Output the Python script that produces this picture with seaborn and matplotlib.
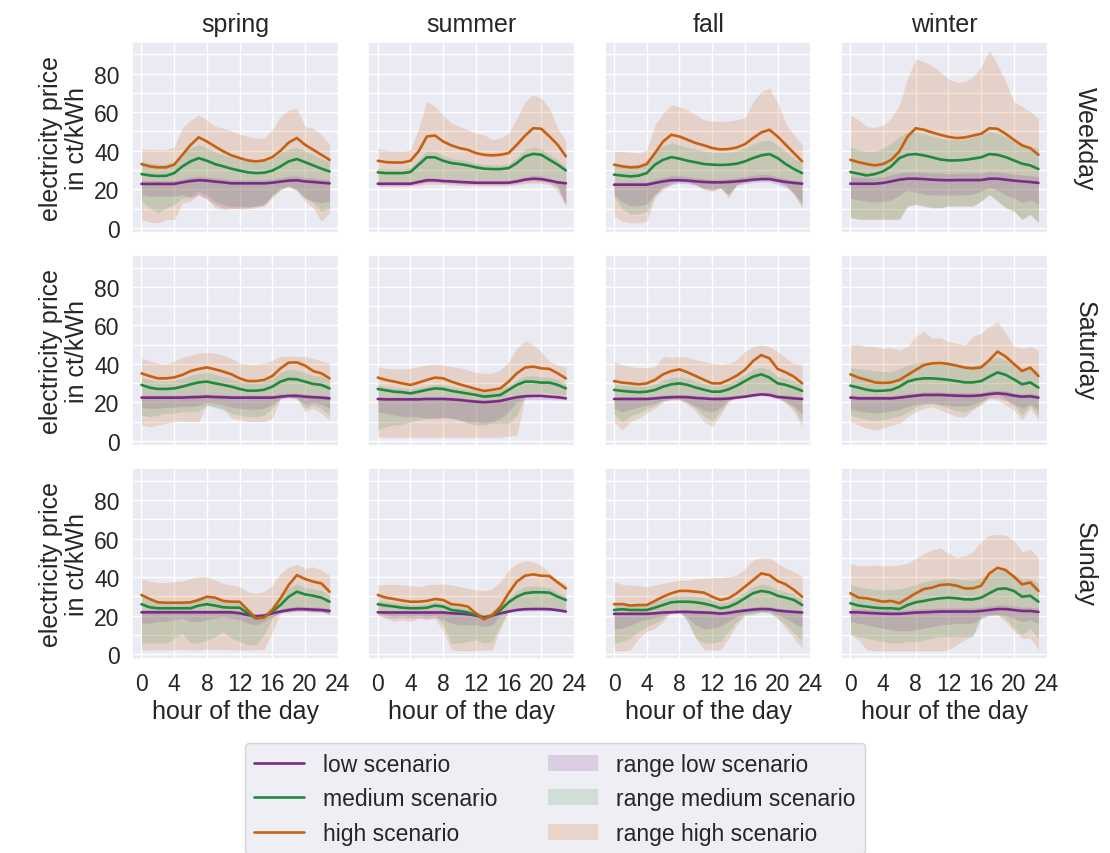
import matplotlib
matplotlib.use("Agg")
import matplotlib.pyplot as plt
import seaborn as sns
import pandas as pd
from matplotlib.ticker import MultipleLocator
from matplotlib.lines import Line2D
from matplotlib.patches import Patch

HOURS = list(range(24))
SEASONS = ["spring", "summer", "fall", "winter"]
DAYS = ["Weekday", "Saturday", "Sunday"]
SCENARIOS = ["low scenario", "medium scenario", "high scenario"]
RANGE_LABELS = ["range low scenario", "range medium scenario", "range high scenario"]
X_TICKS = [0, 4, 8, 12, 16, 20, 24]
Y_TICKS = [0, 20, 40, 60, 80]

# ---------------- Weekday ----------------
WD_SPR_LOW = [22.8,22.8,22.8,22.8,22.8,23.6,24.3,24.7,24.5,24.0,23.6,23.1,23.1,23.1,23.1,23.1,23.4,24.0,24.5,24.7,24.1,23.8,23.4,23.1]
WD_SPR_MED = [27.9,27.2,26.9,27.0,28.4,31.9,34.5,36.2,34.8,33.1,31.9,30.7,29.7,28.8,28.4,28.6,29.7,31.9,34.5,35.7,34.1,32.4,30.7,29.3]
WD_SPR_HIGH = [33.1,31.9,31.4,31.4,32.8,37.9,43.0,47.0,44.8,42.2,39.7,37.6,36.2,35.0,34.5,35.0,36.7,40.0,44.3,46.6,43.1,40.5,37.9,35.3]
WD_SPR_LOW_LO = [17.2,16.4,16.4,16.4,16.4,17.2,15.5,17.2,14.7,12.1,10.3,10.3,10.3,10.3,11.2,12.1,17.2,20.7,21.6,19.8,15.5,13.8,12.9,13.8]
WD_SPR_LOW_HI = [24.5,24.5,24.5,24.5,24.6,25.4,26.3,26.8,26.5,26.0,25.5,25.0,24.9,24.9,24.9,25.0,25.4,26.1,26.7,27.0,26.2,25.8,25.3,25.0]
WD_SPR_MED_LO = [13.8,10.3,7.8,10.3,12.1,15.5,16.4,19.0,17.2,13.8,12.1,11.2,11.2,11.2,11.2,12.1,16.4,19.8,21.6,19.8,15.5,12.9,8.6,10.3]
WD_SPR_MED_HI = [34.5,33.6,33.1,33.1,34.5,38.8,41.4,43.1,41.4,39.3,37.9,36.6,35.3,34.5,34.1,34.5,35.9,38.8,40.9,41.7,40.0,37.9,35.9,34.5]
WD_SPR_HIGH_LO = [4.3,3.1,2.6,4.3,4.3,12.9,13.8,17.2,15.5,10.3,9.5,10.0,9.8,9.8,10.3,11.2,15.5,19.8,21.6,19.0,13.8,10.3,3.4,7.8]
WD_SPR_HIGH_HI = [40.9,40.7,40.5,40.5,42.2,51.7,56.0,58.6,56.0,52.6,51.7,50.3,48.6,47.4,46.6,46.6,50.9,57.8,61.2,62.0,52.6,51.7,48.3,43.4]

WD_SUM_LOW = [22.9,22.9,22.9,22.9,22.9,23.8,24.7,24.7,24.3,24.1,23.8,23.6,23.4,23.4,23.4,23.4,23.4,24.1,25.0,25.5,25.3,24.5,23.6,23.1]
WD_SUM_MED = [28.8,28.4,28.4,28.4,29.0,32.8,36.6,36.6,34.8,33.6,33.1,32.4,31.4,30.7,30.5,30.5,31.0,33.6,37.1,38.4,37.9,35.3,32.8,29.8]
WD_SUM_HIGH = [34.8,34.1,33.9,33.9,34.8,39.7,47.4,47.9,44.8,42.8,41.4,40.5,38.8,37.9,37.6,37.9,38.8,43.1,47.8,51.7,51.4,47.4,43.1,37.1]
WD_SUM_LOW_LO = [22.0,22.0,22.0,22.0,22.0,22.8,23.6,23.6,23.2,23.0,22.8,22.6,22.4,22.4,22.4,22.4,22.4,23.0,23.8,24.2,24.0,23.3,21.0,12.0]
WD_SUM_LOW_HI = [23.9,23.9,23.9,23.9,24.0,25.0,26.0,26.0,25.5,25.2,24.9,24.7,24.5,24.5,24.5,24.5,24.6,25.5,26.6,27.2,27.0,25.8,24.6,24.0]
WD_SUM_MED_LO = [23.8,23.6,23.6,23.6,23.8,24.8,25.8,25.9,25.4,25.1,24.7,24.5,24.3,24.3,24.3,24.3,24.4,25.2,26.2,26.8,26.5,25.4,22.0,12.0]
WD_SUM_MED_HI = [31.0,30.6,30.5,30.5,31.2,35.5,40.0,39.8,37.5,36.0,35.4,34.7,33.6,32.9,32.7,32.7,33.3,36.5,40.5,41.8,41.0,38.2,35.3,31.8]
WD_SUM_HIGH_LO = [21.5,21.3,21.3,21.3,21.5,22.0,22.5,22.6,22.4,22.2,22.0,21.9,21.8,21.8,21.8,21.8,21.8,22.3,23.0,23.2,23.0,22.5,19.0,11.0]
WD_SUM_HIGH_HI = [41.4,40.3,40.0,40.0,40.5,51.7,65.5,62.9,58.6,54.3,52.6,50.9,49.1,48.3,45.7,46.6,49.1,56.9,65.5,69.0,67.2,62.0,51.7,44.8]

WD_FAL_LOW = [22.4,22.4,22.4,22.4,22.4,23.3,24.1,24.7,24.7,24.5,24.1,23.8,23.6,23.6,23.8,24.1,24.5,25.0,25.3,25.3,24.5,23.8,23.3,22.9]
WD_FAL_MED = [27.6,27.1,26.7,27.1,28.4,32.8,35.3,36.7,35.9,34.8,34.0,33.1,32.8,32.6,32.8,33.3,34.5,36.2,37.6,38.3,36.2,33.1,30.5,28.4]
WD_FAL_HIGH = [32.8,31.9,31.4,31.6,33.1,38.8,44.8,48.3,47.4,45.7,44.0,42.8,41.4,40.7,40.9,41.7,43.4,46.6,49.5,50.9,47.4,43.1,38.8,34.5]
WD_FAL_LOW_LO = [17.0,13.5,11.5,11.5,12.5,17.5,21.0,22.5,23.0,22.8,22.0,20.5,19.5,20.5,17.5,22.0,22.8,23.5,23.8,23.8,22.5,21.0,18.0,13.0]
WD_FAL_LOW_HI = [23.8,23.8,23.8,23.8,23.9,25.0,26.2,27.0,27.0,26.6,26.0,25.5,25.2,25.2,25.5,26.0,26.6,27.3,27.8,27.6,26.5,25.4,24.7,24.3]
WD_FAL_MED_LO = [16.0,10.0,7.0,7.5,8.5,17.0,21.5,23.5,24.0,23.5,22.5,20.5,20.0,21.0,17.0,22.5,23.5,24.5,25.0,25.0,23.5,22.0,18.0,11.0]
WD_FAL_MED_HI = [33.5,33.0,32.5,33.0,34.5,39.5,42.5,44.0,43.0,41.8,40.8,39.8,39.3,39.0,39.3,40.0,41.5,43.5,45.0,45.5,43.0,39.5,36.0,33.5]
WD_FAL_HIGH_LO = [6.0,3.4,2.6,2.6,3.4,15.5,19.8,22.4,25.0,24.1,22.4,19.8,19.0,20.7,15.5,22.4,24.1,25.9,25.9,25.9,24.1,22.4,17.2,10.3]
WD_FAL_HIGH_HI = [39.7,39.7,39.3,38.8,40.5,53.4,59.5,63.8,62.9,61.2,58.6,56.0,55.5,55.2,55.5,56.0,57.2,65.5,70.7,72.4,64.7,54.3,48.3,43.1]

WD_WIN_LOW = [22.9,22.9,22.9,22.9,23.3,24.1,25.0,25.5,25.5,25.3,25.0,24.8,24.7,24.8,24.8,24.8,24.8,25.5,25.5,25.0,24.5,24.1,23.8,23.3]
WD_WIN_MED = [29.0,28.1,27.2,27.9,29.3,31.9,36.2,37.9,38.3,37.6,36.6,35.5,35.0,35.0,35.3,35.9,36.6,38.3,37.9,36.7,35.0,33.3,32.4,30.5]
WD_WIN_HIGH = [35.3,34.1,33.1,32.4,33.1,35.3,39.7,47.4,51.7,50.9,49.5,48.3,47.2,46.6,46.9,47.9,48.8,51.7,51.4,48.8,45.7,42.8,41.4,37.9]
WD_WIN_LOW_LO = [15.5,14.5,13.8,13.4,13.8,14.5,17.0,19.5,18.5,17.5,17.0,17.0,17.0,17.0,17.0,17.5,19.0,21.0,19.5,17.0,15.5,13.0,14.5,12.0]
WD_WIN_LOW_HI = [26.5,26.3,26.0,26.0,26.5,27.5,28.5,29.0,29.0,28.8,28.5,28.3,28.2,28.3,28.3,28.3,28.5,29.2,29.0,28.5,28.0,27.5,27.0,26.5]
WD_WIN_MED_LO = [5.5,4.6,4.6,4.6,4.6,4.6,4.8,11.5,12.3,11.5,10.6,10.6,11.5,11.5,11.5,11.5,14.0,17.5,14.0,10.6,8.9,4.6,7.2,3.0]
WD_WIN_MED_HI = [42.2,40.5,39.7,39.7,41.4,44.0,47.4,49.7,49.5,48.8,47.4,46.6,46.0,45.7,46.0,47.1,48.3,50.0,49.1,47.4,44.8,43.4,42.2,41.4]
WD_WIN_HIGH_LO = [5.2,4.3,4.3,4.3,4.3,4.3,4.3,11.2,12.1,11.2,10.3,10.3,11.2,11.2,11.2,11.2,13.8,17.2,13.8,10.3,8.6,4.3,6.9,2.6]
WD_WIN_HIGH_HI = [58.6,56.0,52.6,52.1,53.4,56.9,63.8,77.6,87.6,86.2,84.1,81.0,77.2,75.5,75.9,78.4,83.6,92.2,84.5,75.9,65.5,62.9,60.3,56.9]

# ---------------- Saturday ----------------
SA_SPR_LOW = [22.5,22.5,22.5,22.5,22.5,22.5,22.7,22.8,23.0,22.8,22.7,22.5,22.5,22.5,22.5,22.5,22.5,23.0,23.4,23.4,23.0,22.7,22.5,22.1]
SA_SPR_MED = [29.1,27.7,27.0,27.0,27.3,28.2,29.4,30.4,30.8,29.9,29.1,28.2,27.0,26.1,26.1,26.6,28.2,30.8,32.2,32.0,30.8,29.6,29.1,27.3]
SA_SPR_HIGH = [35.1,33.7,32.5,32.5,33.0,34.3,36.3,37.4,38.2,37.2,36.0,34.6,32.5,31.1,31.1,31.7,33.7,37.7,40.7,40.8,39.1,36.3,35.1,32.5]
SA_SPR_LOW_LO = [17.5,17.0,17.0,17.5,17.5,18.0,18.0,18.5,20.0,19.5,19.0,17.5,17.0,16.5,16.5,17.0,19.0,21.8,22.2,21.8,19.0,20.0,19.0,17.0]
SA_SPR_LOW_HI = [23.8,23.8,23.8,23.8,23.8,23.8,24.0,24.2,24.4,24.2,24.0,23.8,23.8,23.8,23.8,23.8,23.9,24.5,24.8,24.8,24.4,24.0,23.8,23.4]
SA_SPR_MED_LO = [13.5,12.6,13.5,14.4,14.4,15.2,15.2,15.6,18.7,17.3,16.1,14.4,13.5,12.6,12.6,13.5,17.0,22.1,23.0,22.1,17.0,18.7,17.0,13.5]
SA_SPR_MED_HI = [33.0,31.8,31.0,31.0,31.5,32.5,34.0,35.0,35.5,34.5,33.5,32.5,31.0,30.2,30.2,30.8,32.5,35.5,37.0,36.8,35.5,34.0,33.5,31.5]
SA_SPR_HIGH_LO = [8.3,7.4,8.3,9.2,10.0,10.4,10.0,10.0,18.7,17.8,17.0,11.8,10.9,10.0,10.0,10.0,11.8,22.1,23.0,22.1,15.2,17.0,14.4,10.9]
SA_SPR_HIGH_HI = [42.9,41.5,40.3,39.8,41.5,43.3,44.6,45.5,46.0,45.5,44.6,42.9,40.3,39.8,39.8,40.3,42.0,43.8,44.1,43.8,43.8,42.9,41.5,40.3]

SA_SUM_LOW = [21.8,21.6,21.6,21.6,21.6,21.6,21.8,21.8,21.8,21.6,21.3,20.8,20.4,20.1,20.4,20.8,21.8,22.7,23.2,23.4,23.4,23.0,22.7,22.1]
SA_SUM_MED = [27.0,26.3,25.6,25.3,24.7,25.6,26.5,27.3,27.0,26.0,25.3,24.6,23.9,23.0,23.4,23.9,26.5,29.1,30.8,30.8,30.3,30.3,29.1,27.3]
SA_SUM_HIGH = [32.9,31.7,30.8,29.9,29.1,30.3,31.7,32.9,32.5,30.8,29.4,28.2,27.0,26.0,26.5,27.3,30.8,35.1,38.1,38.6,37.7,37.4,35.1,32.5]
SA_SUM_LOW_LO = [15.2,14.4,13.5,12.6,12.6,12.6,11.8,11.8,11.8,11.8,10.9,10.0,10.0,9.2,10.0,11.8,15.2,20.4,21.5,21.5,21.5,21.5,21.3,21.3]
SA_SUM_LOW_HI = [23.0,22.8,22.8,22.8,22.8,22.8,23.0,23.0,23.0,22.8,22.5,22.0,21.6,21.4,21.6,22.0,23.0,23.8,24.2,24.3,24.3,24.0,23.7,23.2]
SA_SUM_MED_LO = [5.7,7.4,8.3,8.7,10.0,10.9,11.8,11.8,12.6,11.8,10.9,9.2,8.3,8.3,9.2,9.2,9.2,13.5,23.9,24.9,24.9,24.7,23.9,23.9]
SA_SUM_MED_HI = [29.0,28.4,27.8,27.5,27.0,27.8,28.6,29.4,29.2,28.2,27.5,26.8,26.2,25.4,25.8,26.4,28.8,31.5,33.6,33.8,33.3,33.2,31.8,29.5]
SA_SUM_HIGH_LO = [2.0,2.0,2.0,2.0,2.0,2.0,2.0,2.0,2.0,2.0,2.0,2.0,2.0,2.0,2.0,2.0,2.5,3.0,23.0,23.5,23.5,23.0,23.0,22.1]
SA_SUM_HIGH_HI = [38.6,37.7,37.4,37.4,37.7,38.6,39.4,39.8,39.4,38.6,38.1,36.9,35.6,35.1,35.1,36.9,41.2,48.1,51.9,49.8,46.4,41.2,39.4,38.6]

SA_FAL_LOW = [21.8,21.8,21.8,21.8,21.8,22.1,22.5,22.7,22.8,22.7,22.3,22.1,21.8,21.8,22.0,22.5,23.0,23.7,24.2,23.9,22.8,22.5,22.1,21.8]
SA_FAL_MED = [26.5,26.0,25.6,25.3,25.6,26.5,28.2,29.4,29.9,29.1,27.7,26.6,25.6,25.6,26.8,28.7,31.1,33.4,34.6,32.9,29.9,29.1,27.7,26.0]
SA_FAL_HIGH = [31.1,30.3,29.9,29.4,29.9,31.7,34.6,36.3,37.2,35.6,33.7,31.7,29.9,29.9,31.7,33.9,36.9,41.5,44.6,42.9,37.4,35.6,33.4,29.9]
SA_FAL_LOW_LO = [17.0,15.0,16.5,17.5,18.5,19.5,21.0,21.5,21.5,20.0,18.0,16.0,15.0,17.5,21.0,22.0,22.5,23.0,23.5,23.0,21.8,20.0,18.0,14.0]
SA_FAL_LOW_HI = [23.0,23.0,23.0,23.0,23.0,23.3,23.8,24.0,24.1,24.0,23.6,23.3,23.0,23.0,23.3,23.8,24.5,25.3,25.8,25.5,24.2,23.8,23.4,23.0]
SA_FAL_MED_LO = [14.0,10.0,13.0,14.5,16.5,18.5,21.0,22.0,22.0,20.0,17.0,13.0,10.5,15.5,21.0,23.5,24.5,25.5,26.0,25.5,23.5,20.5,17.0,10.0]
SA_FAL_MED_HI = [29.5,29.0,28.5,28.2,28.5,29.5,31.5,32.8,33.3,32.5,31.0,29.8,28.7,28.7,30.0,32.0,34.5,37.0,38.5,37.0,33.5,32.5,31.0,29.0]
SA_FAL_HIGH_LO = [10.0,5.7,10.0,11.8,14.4,17.0,20.4,21.3,21.3,18.7,15.2,10.0,7.4,13.5,20.4,23.0,23.9,24.7,25.3,24.7,23.0,19.5,15.2,7.4]
SA_FAL_HIGH_HI = [41.2,39.4,38.6,38.1,38.1,38.6,43.8,43.3,43.8,43.3,42.0,41.2,40.3,39.8,40.3,42.0,46.4,49.0,49.8,49.0,46.4,42.9,40.3,39.8]

SA_WIN_LOW = [22.5,22.1,22.1,22.1,22.1,22.1,22.5,23.0,23.5,23.9,23.9,23.9,23.7,23.5,23.4,23.4,23.7,24.4,24.7,24.4,23.5,23.0,23.2,22.5]
SA_WIN_MED = [28.7,27.7,26.6,26.0,26.1,26.5,28.2,30.8,32.0,32.5,32.5,32.2,31.7,31.1,30.4,30.4,31.1,33.4,35.6,34.3,32.0,29.4,30.4,27.7]
SA_WIN_HIGH = [34.6,32.9,31.7,30.4,30.1,30.4,31.7,34.3,36.9,39.4,40.3,40.5,40.0,39.1,38.1,37.7,38.2,42.0,46.4,43.8,40.0,36.3,38.1,33.7]
SA_WIN_LOW_LO = [16.5,15.5,15.0,14.5,15.0,15.5,16.5,18.0,19.0,19.5,19.5,19.0,18.5,18.0,18.0,19.0,20.5,22.5,22.5,21.0,19.0,17.0,19.0,16.5]
SA_WIN_LOW_HI = [24.0,23.6,23.6,23.6,23.6,23.6,24.0,24.6,25.1,25.5,25.5,25.5,25.3,25.1,25.0,25.0,25.3,26.0,26.3,26.0,25.0,24.5,24.7,24.0]
SA_WIN_MED_LO = [13.5,12.0,11.0,10.5,11.0,12.0,13.0,15.0,17.5,19.0,19.5,18.5,17.0,15.5,15.0,17.0,19.5,23.5,24.5,22.0,18.5,13.5,18.5,13.5]
SA_WIN_MED_HI = [38.0,37.5,37.0,36.5,36.0,36.0,37.5,39.5,40.5,41.0,41.0,40.5,40.0,39.5,39.0,39.0,40.0,42.0,43.5,42.0,40.0,37.5,38.0,36.0]
SA_WIN_HIGH_LO = [10.0,8.3,6.6,5.7,6.6,8.3,9.2,12.6,15.2,17.0,17.8,16.1,14.4,12.6,12.6,16.1,18.7,22.1,21.3,18.7,16.1,10.9,17.0,10.9]
SA_WIN_HIGH_HI = [49.8,50.2,49.0,49.0,48.1,48.4,47.2,49.0,54.2,57.1,53.3,53.6,51.6,50.7,49.8,54.2,55.9,59.3,61.9,55.9,49.0,48.1,49.0,47.2]

# ---------------- Sunday ----------------
SU_SPR_LOW = [21.7,21.7,21.7,21.7,21.7,21.7,21.7,21.7,21.7,21.7,21.7,21.7,21.2,20.3,19.7,20.0,21.2,22.1,22.9,23.4,23.3,23.1,22.9,22.4]
SU_SPR_MED = [25.9,24.3,23.8,23.8,23.8,23.8,23.8,25.2,25.9,25.2,24.3,24.1,24.1,21.2,18.6,19.3,22.1,25.5,29.8,32.4,31.0,30.3,29.3,27.2]
SU_SPR_HIGH = [30.7,28.6,26.9,26.7,26.7,26.7,26.9,28.1,29.8,29.3,27.6,27.2,27.2,22.9,18.6,18.9,22.9,29.0,35.9,41.0,39.0,37.6,36.7,32.4]
SU_SPR_LOW_LO = [16.0,16.0,16.9,16.9,17.8,18.6,16.9,16.9,17.8,18.6,19.5,18.6,17.8,16.0,15.2,16.9,19.5,21.2,21.7,22.1,22.1,21.7,21.7,21.2]
SU_SPR_LOW_HI = [23.0,23.0,23.0,23.0,23.0,23.0,23.0,23.0,23.0,23.0,23.0,23.0,22.5,21.5,20.8,21.2,22.5,23.5,24.3,24.8,24.7,24.5,24.3,23.8]
SU_SPR_MED_LO = [5.7,5.7,5.7,5.7,8.3,10.9,5.7,5.7,7.4,9.1,11.7,8.3,6.6,4.8,4.8,10.0,18.6,22.1,22.1,22.9,22.9,22.1,22.1,20.3]
SU_SPR_MED_HI = [30.0,28.5,27.5,27.5,27.5,27.5,27.8,29.5,30.2,29.5,28.0,27.8,27.5,23.5,19.8,21.0,25.5,30.5,34.5,36.5,34.5,34.0,33.0,30.5]
SU_SPR_HIGH_LO = [2.0,2.2,2.2,2.2,2.2,2.5,2.2,2.2,2.5,2.5,2.5,2.2,2.2,2.2,2.2,2.5,11.7,21.5,22.0,22.4,22.4,22.0,22.0,20.5]
SU_SPR_HIGH_HI = [39.3,37.9,37.2,37.2,37.6,37.9,39.3,40.2,40.2,38.4,36.7,35.9,35.0,32.4,31.6,32.4,35.9,41.9,45.3,46.6,44.5,45.3,43.6,41.0]

SU_SUM_LOW = [21.7,21.6,21.6,21.6,21.6,21.6,21.6,21.6,21.6,21.2,21.0,20.7,20.0,19.1,20.0,21.2,22.1,22.9,23.3,23.4,23.4,23.3,22.8,22.1]
SU_SUM_MED = [25.9,25.2,24.7,24.1,23.8,23.8,24.1,25.2,24.7,22.9,22.4,21.7,20.3,18.6,20.0,22.9,26.9,29.8,31.6,32.1,32.1,31.9,29.8,28.1]
SU_SUM_HIGH = [30.7,29.3,28.6,27.8,27.2,27.2,27.6,28.6,28.1,25.9,25.5,24.7,21.2,18.1,20.3,24.7,31.6,37.6,40.7,41.4,40.7,40.5,37.2,34.1]
SU_SUM_LOW_LO = [20.3,19.0,18.6,19.0,18.6,19.0,18.6,19.0,17.8,16.0,15.2,15.2,15.2,14.3,15.2,20.3,21.7,22.1,22.4,22.4,22.4,22.4,22.1,21.7]
SU_SUM_LOW_HI = [22.7,22.6,22.6,22.6,22.6,22.6,22.6,22.6,22.6,22.2,22.0,21.7,21.0,20.1,21.0,22.2,23.1,23.9,24.3,24.4,24.4,24.3,23.8,23.1]
SU_SUM_MED_LO = [21.2,20.3,19.5,20.3,19.5,20.3,19.5,20.3,15.2,5.7,5.7,6.6,7.4,5.7,6.6,15.2,22.1,22.9,23.4,23.8,23.8,23.4,22.9,22.4]
SU_SUM_MED_HI = [28.0,27.3,26.8,26.2,25.8,25.8,26.2,27.3,26.8,25.0,24.5,23.8,22.3,20.5,22.0,25.0,29.5,33.0,35.0,35.2,35.0,34.5,32.0,30.0]
SU_SUM_HIGH_LO = [20.3,18.6,16.9,17.8,16.9,18.6,17.8,18.6,11.7,2.2,1.7,1.7,1.7,2.2,2.2,13.4,22.1,22.9,23.4,23.4,23.4,22.9,22.4,22.1]
SU_SUM_HIGH_HI = [35.9,36.2,36.2,35.9,35.5,35.0,35.9,36.2,36.4,35.9,35.0,34.1,33.3,32.8,34.1,37.6,43.6,47.1,48.3,47.9,45.9,41.9,38.4,36.7]

SU_FAL_LOW = [20.9,20.9,20.9,20.9,20.9,21.2,21.6,21.7,21.9,21.9,21.7,21.6,21.4,21.0,21.4,22.1,22.6,23.1,23.4,23.3,22.6,22.2,21.9,21.6]
SU_FAL_MED = [22.9,23.3,22.9,22.9,22.9,24.1,25.5,26.9,27.2,27.2,26.9,26.2,25.2,23.8,24.5,26.4,29.0,31.6,32.8,32.1,30.3,29.3,28.1,25.5]
SU_FAL_HIGH = [25.9,26.0,25.2,25.5,25.5,27.6,29.8,31.6,32.8,32.8,32.4,31.9,29.8,28.1,29.0,31.6,35.0,38.4,41.9,41.0,37.9,36.2,33.3,29.8]
SU_FAL_LOW_LO = [13.0,13.5,15.0,17.0,18.0,19.0,20.0,21.0,21.3,19.0,15.0,13.0,13.5,14.5,17.0,19.5,21.2,21.8,22.2,22.0,20.5,18.5,16.0,14.0]
SU_FAL_LOW_HI = [21.8,21.8,21.8,21.8,21.8,22.2,22.7,22.9,23.1,23.1,22.9,22.7,22.5,22.0,22.5,23.3,23.9,24.5,24.8,24.7,23.9,23.4,23.0,22.6]
SU_FAL_MED_LO = [5.7,6.6,8.3,11.7,14.3,16.0,18.6,22.1,22.4,16.9,8.3,5.7,5.7,6.6,11.7,16.9,20.3,20.3,21.7,21.2,18.6,15.2,10.9,7.4]
SU_FAL_MED_HI = [25.5,26.0,25.5,25.5,25.5,27.0,28.5,30.0,30.3,30.3,30.0,29.3,28.0,26.5,27.3,29.5,32.3,35.0,36.3,35.5,33.5,32.3,31.0,28.2]
SU_FAL_HIGH_LO = [1.7,1.7,2.2,8.3,11.7,13.4,16.9,22.1,22.9,16.9,8.3,2.2,2.2,2.2,8.3,15.2,20.3,21.2,22.1,21.7,18.6,13.4,8.3,3.1]
SU_FAL_HIGH_HI = [37.6,36.2,35.9,35.5,35.0,35.9,36.7,37.6,38.4,38.4,39.0,39.3,39.7,39.7,40.2,41.0,44.5,48.8,50.0,50.0,47.1,44.5,42.8,40.2]

SU_WIN_LOW = [21.7,21.7,21.4,21.2,21.0,20.9,20.9,21.2,21.6,21.7,21.9,22.1,22.1,22.1,22.1,22.1,22.4,22.9,23.4,23.4,22.9,22.4,22.4,21.9]
SU_WIN_MED = [26.4,25.2,24.7,24.1,23.8,23.8,23.4,25.5,26.9,27.6,28.4,29.0,29.3,29.0,28.4,28.4,29.3,31.6,33.8,34.1,32.8,29.8,30.3,27.2]
SU_WIN_HIGH = [31.6,29.3,29.0,28.1,27.2,27.6,26.4,29.0,31.6,33.8,34.5,35.9,36.2,35.5,34.1,34.1,35.5,41.9,44.8,43.6,40.2,36.2,37.2,32.8]
SU_WIN_LOW_LO = [16.9,16.0,15.2,14.3,13.4,12.6,12.1,12.1,12.6,13.4,14.3,15.2,15.5,16.0,16.0,16.0,18.6,20.3,20.7,20.0,18.6,16.9,17.8,16.0]
SU_WIN_LOW_HI = [23.5,23.5,23.2,23.0,22.8,22.7,22.7,23.0,23.4,23.6,23.8,24.0,24.0,24.0,24.0,24.0,24.4,25.0,25.6,25.6,25.0,24.4,24.4,23.8]
SU_WIN_MED_LO = [10.0,9.1,8.3,7.4,6.6,5.7,5.7,6.6,6.6,7.4,8.3,9.1,9.1,9.1,9.1,9.1,18.6,20.0,20.3,18.6,13.4,10.0,13.4,8.3]
SU_WIN_MED_HI = [35.9,35.0,34.1,33.6,33.3,33.6,33.8,35.0,36.2,37.6,38.4,39.0,39.3,39.0,38.4,38.4,39.7,41.9,43.6,43.1,41.4,39.0,39.3,36.7]
SU_WIN_HIGH_LO = [10.3,7.4,2.2,1.7,1.7,1.7,1.7,1.7,1.7,1.7,1.7,1.7,2.2,4.8,7.4,10.0,20.3,20.3,20.3,16.9,11.7,8.3,8.3,2.2]
SU_WIN_HIGH_HI = [47.1,45.9,45.9,46.2,45.9,45.9,46.2,47.1,49.7,52.2,54.0,55.2,52.2,50.0,51.0,53.1,58.6,61.7,62.1,61.7,59.1,53.1,54.5,50.0]

PREFIX_DAY = {"Weekday": "WD", "Saturday": "SA", "Sunday": "SU"}
PREFIX_SEASON = {"spring": "SPR", "summer": "SUM", "fall": "FAL", "winter": "WIN"}
KEYS = ["LOW", "MED", "HIGH"]

COLORS = ["#7b2a8c", "#1e8a3c", "#c9600f"]
BAND_ALPHA = [0.16, 0.15, 0.18]

sns.set_theme(style="darkgrid")
plt.rcParams["font.family"] = ["Liberation Sans", "DejaVu Sans"]

TICK_FS = 16.5
LABEL_FS = 18
TITLE_FS = 18
LEGEND_FS = 16.5

fig, axes = plt.subplots(3, 4, figsize=(11.1, 8.54), dpi=100, sharex=True, sharey=True)
fig.subplots_adjust(left=0.119, right=0.944, top=0.950, bottom=0.227, wspace=0.142, hspace=0.115)

g = globals()
for r, day in enumerate(DAYS):
    for c, season in enumerate(SEASONS):
        ax = axes[r, c]
        pre = PREFIX_DAY[day] + "_" + PREFIX_SEASON[season] + "_"
        for i in [2, 1, 0]:
            k = KEYS[i]
            ax.fill_between(HOURS, g[pre + k + "_LO"], g[pre + k + "_HI"],
                            color=COLORS[i], alpha=BAND_ALPHA[i], lw=0)
        rows = []
        for i, k in enumerate(KEYS):
            for h, v in zip(HOURS, g[pre + k]):
                rows.append({"hour": h, "price": v, "scenario": SCENARIOS[i]})
        df = pd.DataFrame(rows)
        sns.lineplot(data=df, x="hour", y="price", hue="scenario",
                     hue_order=SCENARIOS, palette=COLORS, ax=ax,
                     legend=False, lw=1.9)
        ax.set_xlim(-1.15, 24.15)
        ax.set_ylim(-2.6, 96.6)
        ax.set_xticks(X_TICKS)
        ax.set_yticks(Y_TICKS)
        ax.yaxis.set_minor_locator(MultipleLocator(10))
        ax.grid(which="minor", axis="y", color="white", lw=1.0)
        ax.grid(which="major", color="white", lw=1.0)
        ax.tick_params(labelsize=TICK_FS, pad=3)
        ax.set_xlabel("")
        ax.set_ylabel("")
        if r == 0:
            ax.set_title(season, fontsize=TITLE_FS, pad=8)
        if c == 0:
            ax.set_ylabel("electricity price\nin ct/kWh", fontsize=LABEL_FS, linespacing=1.1)
        if r == 2:
            ax.set_xlabel("hour of the day", fontsize=LABEL_FS, labelpad=3)
        if c == 3:
            ax.text(1.18, 0.5, day, transform=ax.transAxes, rotation=270,
                    ha="center", va="center", fontsize=LABEL_FS)

handles = [Line2D([0], [0], color=COLORS[i], lw=1.9) for i in range(3)]
handles += [Patch(facecolor=COLORS[i], alpha=BAND_ALPHA[i], edgecolor="none") for i in range(3)]
labels = SCENARIOS + RANGE_LABELS
fig.legend(handles, labels, loc="upper center", bbox_to_anchor=(0.5, 1 - 733 / 854),
           ncol=2, fontsize=LEGEND_FS, frameon=True, handlelength=2.2, columnspacing=2.2)

fig.savefig("out.png", dpi=100)
